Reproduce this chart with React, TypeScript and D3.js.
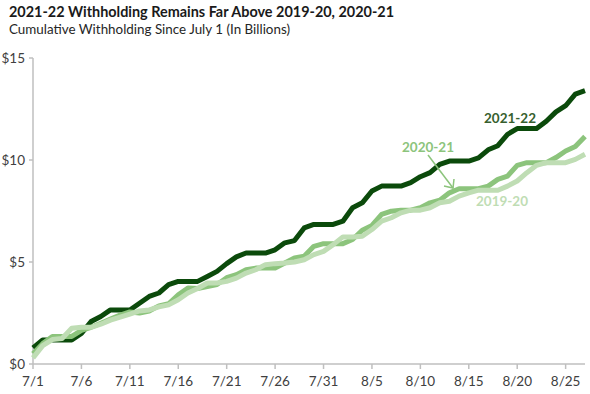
import React from 'react';
import * as d3 from 'd3';

// cumulative withholding, $ billions, one value per day 7/1 .. 8/27
const days = d3.timeDay.range(new Date(2021, 6, 1), new Date(2021, 7, 28));

const fy2122 = [
  0.79, 1.18, 1.18, 1.18, 1.18, 1.5, 2.08, 2.33, 2.65, 2.65,
  2.65, 2.98, 3.31, 3.48, 3.89, 4.05, 4.05, 4.05, 4.29, 4.54,
  4.92, 5.25, 5.44, 5.44, 5.44, 5.6, 5.94, 6.05, 6.67, 6.84,
  6.84, 6.84, 7.0, 7.66, 7.9, 8.48, 8.72, 8.72, 8.72, 8.89,
  9.18, 9.38, 9.79, 9.95, 9.95, 9.95, 10.1, 10.5, 10.7, 11.26,
  11.54, 11.54, 11.54, 11.9, 12.36, 12.66, 13.23, 13.4,
];
const fy2021 = [
  0.5, 1.0, 1.35, 1.35, 1.35, 1.65, 1.8, 2.0, 2.2, 2.4,
  2.55, 2.5, 2.6, 2.85, 2.95, 3.39, 3.72, 3.7, 3.8, 3.9,
  4.23, 4.38, 4.62, 4.7, 4.7, 4.7, 4.95, 5.2, 5.28, 5.77,
  5.9, 5.9, 5.9, 6.1, 6.56, 6.79, 7.33, 7.49, 7.54, 7.54,
  7.66, 7.9, 8.03, 8.39, 8.59, 8.59, 8.59, 8.72, 9.05, 9.21,
  9.74, 9.87, 9.87, 9.87, 10.12, 10.44, 10.66, 11.15,
];
const fy1920 = [
  0.3, 0.9, 1.2, 1.25, 1.75, 1.8, 1.8, 1.95, 2.15, 2.3,
  2.45, 2.6, 2.65, 2.8, 2.9, 3.15, 3.48, 3.7, 3.97, 3.97,
  4.05, 4.21, 4.46, 4.62, 4.87, 4.92, 4.95, 5.0, 5.11, 5.36,
  5.52, 5.85, 6.23, 6.23, 6.26, 6.59, 7.0, 7.17, 7.41, 7.54,
  7.54, 7.66, 7.9, 7.98, 8.23, 8.39, 8.52, 8.52, 8.52, 8.72,
  8.97, 9.38, 9.74, 9.87, 9.87, 9.87, 10.03, 10.28,
];
const yTicks = [0, 5, 10, 15];

const series = [
  { name: '2021-22', values: fy2122, color: '#0b4a0b' },
  { name: '2020-21', values: fy2021, color: '#8cc47c' },
  { name: '2019-20', values: fy1920, color: '#bfddb4' },
];

const W = 590, H = 394;
const m = { left: 33, right: 5, top: 58, bottom: 30 };

export default function App() {
  const x = d3.scaleTime()
    .domain([days[0], days[days.length - 1]])
    .range([m.left, W - m.right]);
  const y = d3.scaleLinear().domain([0, 15]).range([H - m.bottom, m.top]);
  const xTicks = days.filter((_, i) => i % 5 === 0);
  const fmt = d3.timeFormat('%-m/%-d');
  const line = d3.line<number>()
    .x((_, i) => x(days[i]))
    .y(d => y(d));

  const font = 'Lato, "Open Sans", sans-serif';
  const axisColor = '#bfbfbf';

  return (
    <svg width={W} height={H} style={{ position: 'absolute', left: 0, top: 0 }} fontFamily={font}>
      <rect width={W} height={H} fill="white" />
      <text x={9} y={17} fontSize={15} fontWeight="bold" fill="#1a1a1a"
        textLength={385} lengthAdjust="spacingAndGlyphs">
        2021-22 Withholding Remains Far Above 2019-20, 2020-21
      </text>
      <text x={9} y={34} fontSize={13} fill="#262626"
        textLength={281} lengthAdjust="spacingAndGlyphs">
        Cumulative Withholding Since July 1 (In Billions)
      </text>

      {/* y axis */}
      <line x1={m.left} x2={m.left} y1={y(15)} y2={y(0)} stroke={axisColor} strokeWidth={1.5} />
      {yTicks.map(t => (
        <g key={t}>
          <line x1={m.left - 4} x2={m.left} y1={y(t)} y2={y(t)} stroke={axisColor} strokeWidth={1.5} />
          <text x={25} y={y(t)} dy="0.35em" textAnchor="end" fontSize={13.5} fill="#404040">${t}</text>
        </g>
      ))}

      {/* x axis */}
      <line x1={m.left} x2={W - m.right} y1={y(0)} y2={y(0)} stroke={axisColor} strokeWidth={1.5} />
      {xTicks.map(t => (
        <g key={+t}>
          <line x1={x(t)} x2={x(t)} y1={y(0)} y2={y(0) + 5} stroke={axisColor} strokeWidth={1.5} />
          <text x={x(t)} y={y(0) + 22} textAnchor="middle" fontSize={13.5} fill="#404040">{fmt(t)}</text>
        </g>
      ))}

      {series.map(s => (
        <path key={s.name} d={line(s.values) || ''} fill="none" stroke={s.color}
          strokeWidth={5} strokeLinejoin="round" />
      ))}

      {/* labels */}
      <text x={510} y={118} dy="0.35em" textAnchor="middle" fontSize={13.5} fontWeight="bold" fill="#375f2e">2021-22</text>
      <text x={428} y={147} dy="0.35em" textAnchor="middle" fontSize={13.5} fontWeight="bold" fill="#8cc47c">2020-21</text>
      <text x={502} y={201} dy="0.35em" textAnchor="middle" fontSize={13.5} fontWeight="bold" fill="#bfddb4">2019-20</text>
      <g stroke="#8cc47c" strokeWidth={1.5} fill="none">
        <line x1={428} y1={155} x2={453} y2={188} />
        <polyline points="444,186 453,188 454,179" />
      </g>
    </svg>
  );
}
